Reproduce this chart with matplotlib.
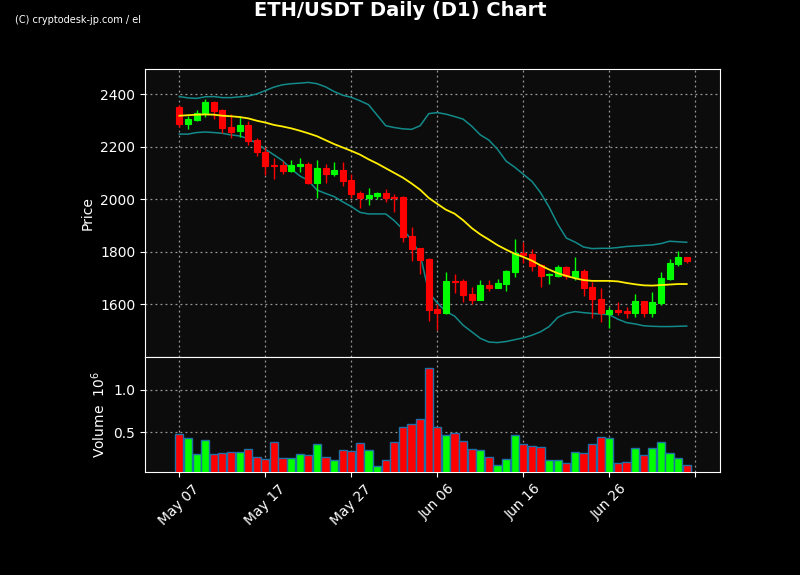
import numpy as np
import pandas as pd
import matplotlib
matplotlib.use("Agg")
from matplotlib import pyplot as plt
import matplotlib.dates as mdates

# daily candles, May 07 .. Jul 05
dates = pd.date_range("2022-05-07", periods=60, freq="D")

opens = [2352, 2288, 2303, 2325, 2370, 2339, 2275, 2258, 2283, 2226,
         2180, 2129, 2131, 2109, 2127, 2134, 2063, 2119, 2096, 2112,
         2073, 2023, 2006, 2012, 2025, 2009, 2009, 1860, 1814, 1772,
         1582, 1567, 1689, 1689, 1639, 1617, 1673, 1662, 1677, 1724,
         1797, 1792, 1750, 1711, 1709, 1742, 1704, 1727, 1665, 1620,
         1563, 1578, 1574, 1567, 1612, 1567, 1606, 1696, 1755, 1780]
highs = [2358, 2316, 2339, 2381, 2373, 2342, 2324, 2318, 2299, 2232,
         2198, 2156, 2146, 2148, 2156, 2140, 2148, 2135, 2141, 2141,
         2095, 2031, 2044, 2029, 2038, 2019, 2011, 1893, 1815, 1778,
         1601, 1722, 1714, 1695, 1665, 1691, 1691, 1695, 1731, 1848,
         1838, 1810, 1752, 1720, 1749, 1744, 1779, 1733, 1686, 1661,
         1591, 1610, 1589, 1638, 1613, 1646, 1722, 1773, 1804, 1781]
lows = [2275, 2267, 2298, 2312, 2305, 2254, 2232, 2238, 2207, 2165,
        2093, 2077, 2095, 2103, 2103, 2058, 2006, 2061, 2090, 2052,
        2004, 1966, 1978, 2000, 1991, 1953, 1836, 1766, 1714, 1537,
        1502, 1562, 1642, 1610, 1602, 1616, 1649, 1660, 1652, 1705,
        1756, 1727, 1667, 1676, 1703, 1698, 1693, 1633, 1549, 1531,
        1508, 1559, 1547, 1550, 1550, 1550, 1596, 1693, 1745, 1756]
closes = [2288, 2306, 2329, 2370, 2336, 2273, 2257, 2283, 2223, 2178,
          2128, 2126, 2109, 2131, 2134, 2063, 2119, 2096, 2112, 2071,
          2020, 2005, 2016, 2025, 2006, 2006, 1858, 1811, 1769, 1578,
          1567, 1689, 1686, 1636, 1617, 1673, 1662, 1681, 1727, 1797,
          1788, 1747, 1709, 1715, 1742, 1709, 1727, 1663, 1619, 1566,
          1578, 1572, 1567, 1612, 1567, 1609, 1700, 1757, 1780, 1763]
volumes = [0.477, 0.430, 0.244, 0.407, 0.244, 0.256, 0.267, 0.267, 0.302, 0.209,
           0.186, 0.384, 0.198, 0.198, 0.244, 0.233, 0.360, 0.209, 0.174, 0.290,
           0.279, 0.372, 0.290, 0.105, 0.174, 0.384, 0.558, 0.593, 0.651, 1.256,
           0.558, 0.465, 0.488, 0.395, 0.302, 0.290, 0.209, 0.116, 0.186, 0.465,
           0.360, 0.337, 0.326, 0.174, 0.174, 0.140, 0.267, 0.256, 0.360, 0.442,
           0.430, 0.140, 0.151, 0.314, 0.233, 0.314, 0.384, 0.256, 0.198, 0.116]  # x 10^6

# moving average and bollinger bands as drawn
ma = [2318, 2320, 2322, 2323, 2322, 2318, 2316, 2313, 2308, 2299,
      2292, 2283, 2277, 2270, 2261, 2251, 2240, 2225, 2210, 2197,
      2184, 2170, 2152, 2136, 2118, 2100, 2082, 2060, 2036, 2005,
      1982, 1960, 1945, 1920, 1890, 1866, 1846, 1825, 1808, 1792,
      1780, 1766, 1748, 1732, 1718, 1708, 1699, 1692, 1689, 1689,
      1689, 1687, 1681, 1676, 1672, 1671, 1673, 1675, 1677, 1677]
upper = [2391, 2386, 2384, 2390, 2391, 2387, 2387, 2390, 2393, 2401,
         2414, 2427, 2436, 2440, 2442, 2445, 2440, 2428, 2410, 2396,
         2388, 2375, 2360, 2320, 2280, 2273, 2268, 2266, 2280, 2326,
         2330, 2324, 2315, 2305, 2278, 2245, 2225, 2190, 2145, 2122,
         2095, 2068, 2025, 1970, 1905, 1852, 1837, 1818, 1812, 1813,
         1813, 1816, 1820, 1822, 1824, 1826, 1831, 1840, 1838, 1836]
lower = [2248, 2248, 2254, 2256, 2254, 2251, 2245, 2241, 2230, 2213,
         2190, 2169, 2147, 2115, 2089, 2071, 2035, 2022, 2010, 1990,
         1972, 1950, 1944, 1944, 1944, 1918, 1885, 1845, 1790, 1645,
         1605, 1572, 1555, 1520, 1495, 1470, 1456, 1454, 1458, 1465,
         1472, 1482, 1495, 1515, 1550, 1565, 1572, 1568, 1565, 1563,
         1560, 1543, 1530, 1525, 1518, 1516, 1515, 1515, 1516, 1517]

tick_dates = pd.date_range("2022-05-07", periods=7, freq="10D")
tick_labels = ["May 07", "May 17", "May 27", "Jun 06", "Jun 16", "Jun 26", ""]

up_col = "#00ff00"
down_col = "#ff0000"
bg = "#0c0c0c"

fig = plt.figure(figsize=(8, 5.75), dpi=100, facecolor="black")
ax = fig.add_axes([0.18125, 0.3791, 0.71875, 0.5009], facecolor=bg)
axv = fig.add_axes([0.18125, 0.1791, 0.71875, 0.2], facecolor=bg, sharex=ax)

x = mdates.date2num(dates)
o = np.array(opens); h = np.array(highs); l = np.array(lows); c = np.array(closes)
cols = [up_col if cc >= oo else down_col for oo, cc in zip(o, c)]

# wicks then bodies
ax.vlines(x, l, h, colors=cols, linewidth=1, zorder=2)
ax.bar(x, np.abs(c - o), bottom=np.minimum(o, c), width=0.7,
       color=cols, edgecolor=cols, linewidth=0.8, zorder=3)

ax.plot(x, ma, color="#ffee00", linewidth=1.3, zorder=4)
ax.plot(x, upper, color="#138a8a", linewidth=1.1, zorder=1)
ax.plot(x, lower, color="#138a8a", linewidth=1.1, zorder=1)

axv.bar(x, volumes, width=0.95, color=cols, edgecolor="#1f6fa8", linewidth=1.0, zorder=3)

x0 = mdates.date2num(pd.Timestamp("2022-05-07"))
ax.set_xlim(x0 - 4.0, x0 + 62.87)
ax.set_ylim(1399, 2496)
ax.set_yticks([1600, 1800, 2000, 2200, 2400])
axv.set_ylim(0.035, 1.38)
axv.set_yticks([0.5, 1.0])
axv.set_xticks(mdates.date2num(tick_dates))
axv.set_xticklabels(tick_labels, rotation=45, ha="center")

for a in (ax, axv):
    a.grid(True, color="#9a9a9a", linestyle=(0, (1.5, 2.5)), linewidth=0.9, zorder=0)
    a.set_axisbelow(True)
    for s in a.spines.values():
        s.set_color("white")
    a.tick_params(colors="white", labelsize=10)

ax.tick_params(axis="x", length=0, labelbottom=False)
ax.set_ylabel("Price", color="white", fontsize=10)
axv.set_ylabel("Volume  $10^{6}$", color="white", fontsize=10)

fig.text(0.5, 0.981, "ETH/USDT Daily (D1) Chart", color="white", fontsize=14,
         fontweight="bold", ha="center", va="center")
fig.text(0.019, 0.965, "(C) cryptodesk-jp.com / el", color="white", fontsize=7,
         ha="left", va="center", family="Liberation Sans Narrow")

fig.savefig("out.png", dpi=100, facecolor="black")
